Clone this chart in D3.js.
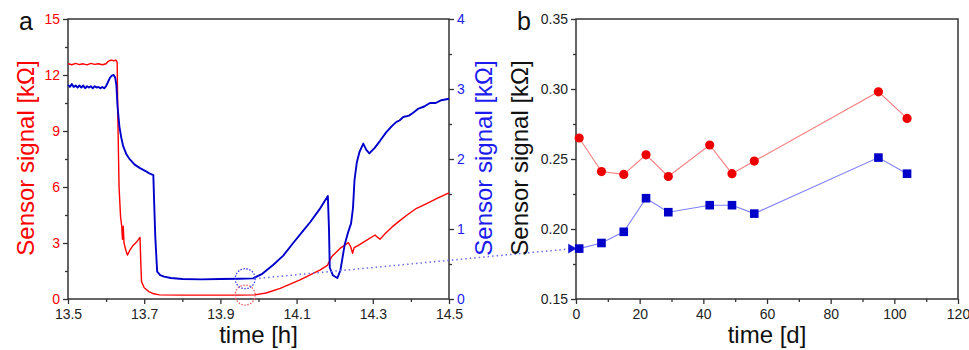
<!doctype html>
<html>
<head>
  <meta charset="utf-8">
  <title>Sensor signal</title>
  <style>
    body { margin: 0; background: #fff; }
    svg { display: block; font-family: Arial, "Liberation Sans", sans-serif; }
    .frame { fill: none; stroke: #333; stroke-width: 1.5; }
    .tick line { stroke: #333; stroke-width: 1.3; }
    .tick text { font-size: 14px; }
  </style>
</head>
<body>
  <div id="vis"></div>

  <script src="https://cdn.jsdelivr.net/npm/d3@7/dist/d3.min.js"></script>
  <script>

    // panel a: measurement run, time in hours
    var timeRed = [13.5, 13.51, 13.52, 13.53, 13.54, 13.55, 13.56, 13.57, 13.58, 13.59, 13.6,
      13.605, 13.61, 13.615, 13.62, 13.625, 13.629, 13.631, 13.634, 13.638, 13.641, 13.643,
      13.645, 13.647, 13.652, 13.656, 13.662, 13.67, 13.68, 13.689, 13.691, 13.693, 13.7,
      13.712, 13.725, 13.74, 13.8, 13.85, 13.9, 13.95, 13.99, 14.02, 14.057, 14.109, 14.161,
      14.181, 14.192, 14.214, 14.236, 14.242, 14.247, 14.251, 14.26, 14.28, 14.306, 14.313,
      14.319, 14.33, 14.35, 14.371, 14.39, 14.415, 14.44, 14.47, 14.5];
    var signalRed = [12.6, 12.55, 12.62, 12.56, 12.6, 12.54, 12.62, 12.57, 12.6, 12.55, 12.6,
      12.72, 12.78, 12.8, 12.76, 12.8, 12.7, 9.5, 6.0, 4.4, 3.9, 3.2,
      3.9, 3.0, 2.6, 2.35, 2.6, 2.85, 3.05, 3.3, 2.0, 0.93, 0.6,
      0.4, 0.28, 0.22, 0.21, 0.21, 0.21, 0.21, 0.22, 0.32, 0.57, 1.02, 1.55,
      1.8, 2.27, 2.71, 3.02, 2.8, 2.45, 2.75, 2.85, 3.1, 3.43, 3.3,
      3.2, 3.45, 3.85, 4.2, 4.5, 4.86, 5.1, 5.4, 5.69];

    var timeBlue = [13.5, 13.505, 13.51, 13.515, 13.52, 13.525, 13.53, 13.535, 13.54, 13.545,
      13.55, 13.555, 13.56, 13.565, 13.57, 13.575, 13.58, 13.585, 13.59, 13.595, 13.6,
      13.605, 13.61, 13.615, 13.62, 13.624, 13.627, 13.63, 13.635, 13.64, 13.645, 13.654,
      13.663, 13.675, 13.689, 13.706, 13.715, 13.724, 13.726, 13.729, 13.734, 13.742, 13.752,
      13.77, 13.8, 13.85, 13.9, 13.95, 13.986, 14.01, 14.039, 14.065, 14.091, 14.118, 14.136,
      14.16, 14.182, 14.185, 14.187, 14.195, 14.207, 14.215, 14.226, 14.235, 14.243, 14.248,
      14.252, 14.258, 14.265, 14.275, 14.283, 14.291, 14.305, 14.319, 14.335, 14.35, 14.362,
      14.37, 14.38, 14.395, 14.406, 14.42, 14.435, 14.45, 14.465, 14.48, 14.5];
    var signalBlue = [3.06, 3.03, 3.07, 3.03, 3.05, 3.02, 3.05, 3.02, 3.05, 3.01,
      3.04, 3.02, 3.04, 3.01, 3.04, 3.02, 3.03, 3.01, 3.03, 3.01, 3.04,
      3.1, 3.16, 3.19, 3.2, 3.16, 3.05, 2.75, 2.46, 2.3, 2.18, 2.06,
      1.99, 1.92, 1.87, 1.82, 1.79, 1.77, 1.4, 0.9, 0.39, 0.34, 0.32,
      0.3, 0.285, 0.28, 0.285, 0.29, 0.295, 0.36, 0.49, 0.62, 0.8, 0.98, 1.1,
      1.28, 1.47, 1.0, 0.45, 0.34, 0.3, 0.41, 0.77, 0.95, 1.08, 1.3,
      1.7, 1.95, 2.1, 2.22, 2.13, 2.08, 2.16, 2.26, 2.38, 2.47, 2.53,
      2.55, 2.6, 2.62, 2.66, 2.72, 2.75, 2.8, 2.8, 2.84, 2.86];

    // panel b: long term values, time in days
    var days = [1, 8, 15, 22, 29, 42, 49, 56, 95, 104];
    var agedRed = [0.265, 0.241, 0.239, 0.253, 0.2375, 0.260, 0.2395, 0.2485, 0.298, 0.279];
    var agedBlue = [0.186, 0.190, 0.198, 0.222, 0.212, 0.217, 0.217, 0.211, 0.251, 0.2395];

    // marked point in a, carried over to day 0 in b
    var markTime = 13.965, markRed = 0.21, markBlue = 0.29;
    var linkTime = 13.99, linkDay = 0, linkValue = 0.186;

    var hourTicks = [13.5, 13.7, 13.9, 14.1, 14.3, 14.5];
    var redTicks = [0, 3, 6, 9, 12, 15];
    var blueTicks = [0, 1, 2, 3, 4];
    var dayTicks = [0, 20, 40, 60, 80, 100, 120];
    var agedTicks = [0.15, 0.20, 0.25, 0.30, 0.35];

    var W = 969, H = 350;
    var RED = "#ff0000", BLUE = "#0000cc", AXISBLUE = "#1c1cf0";

    var svg = d3.select("#vis").append("svg")
      .attr("width", W).attr("height", H);

    var x = d3.scaleLinear().domain([13.5, 14.5]).range([68, 449]);
    var yRed = d3.scaleLinear().domain([0, 15]).range([299, 19]);
    var yBlue = d3.scaleLinear().domain([0, 4]).range([299, 19]);

    var xd = d3.scaleLinear().domain([0, 120]).range([576, 958]);
    var yd = d3.scaleLinear().domain([0.15, 0.35]).range([299, 19]);

    // minor ticks helper: short ticks without labels
    function minor(g, axisFn, scale, values) {
      g.call(axisFn(scale).tickValues(values).tickSize(3).tickFormat(""));
    }

    function styleAxis(g, color) {
      g.select(".domain").remove();
      g.selectAll(".tick text").attr("fill", color);
    }

    // ---- panel a axes ----
    var gx = svg.append("g").attr("transform", "translate(0,299)");
    gx.call(d3.axisBottom(x).tickValues(hourTicks).tickSize(5).tickPadding(5).tickFormat(d3.format(".1f")));
    styleAxis(gx, "#222");
    minor(svg.append("g").attr("transform", "translate(0,299)"), d3.axisBottom, x, [13.6, 13.8, 14.0, 14.2, 14.4]);

    var gyl = svg.append("g").attr("transform", "translate(68,0)");
    gyl.call(d3.axisLeft(yRed).tickValues(redTicks).tickSize(5).tickPadding(3).tickFormat(d3.format("d")));
    styleAxis(gyl, RED);
    minor(svg.append("g").attr("transform", "translate(68,0)"), d3.axisLeft, yRed, [1.5, 4.5, 7.5, 10.5, 13.5]);

    var gyr = svg.append("g").attr("transform", "translate(449,0)");
    gyr.call(d3.axisRight(yBlue).tickValues(blueTicks).tickSize(5).tickPadding(3).tickFormat(d3.format("d")));
    styleAxis(gyr, AXISBLUE);
    minor(svg.append("g").attr("transform", "translate(449,0)"), d3.axisRight, yBlue, [0.5, 1.5, 2.5, 3.5]);

    svg.selectAll(".domain").remove();
    svg.append("rect").attr("class", "frame")
      .attr("x", 68).attr("y", 19).attr("width", 449 - 68).attr("height", 280);

    // ---- panel a curves ----
    var redLine = d3.line()
      .x(function(d, i){ return x(timeRed[i]); })
      .y(function(d){ return yRed(d); });
    var blueLine = d3.line()
      .x(function(d, i){ return x(timeBlue[i]); })
      .y(function(d){ return yBlue(d); });

    svg.append("path").datum(signalRed)
      .attr("d", redLine)
      .attr("fill", "none").attr("stroke", RED).attr("stroke-width", 1.4)
      .attr("stroke-linejoin", "round");
    svg.append("path").datum(signalBlue)
      .attr("d", blueLine)
      .attr("fill", "none").attr("stroke", BLUE).attr("stroke-width", 1.9)
      .attr("stroke-linejoin", "round");

    // dotted circles around the marked point
    svg.append("circle")
      .attr("cx", x(markTime)).attr("cy", yRed(markRed)).attr("r", 10)
      .attr("fill", "none").attr("stroke", "#f06060").attr("stroke-width", 1.3)
      .attr("stroke-dasharray", "1.5,1.5");
    svg.append("circle")
      .attr("cx", x(markTime)).attr("cy", yBlue(markBlue)).attr("r", 10)
      .attr("fill", "none").attr("stroke", "#3a3aee").attr("stroke-width", 1.3)
      .attr("stroke-dasharray", "1.5,1.5");

    // ---- panel b axes ----
    var gxd = svg.append("g").attr("transform", "translate(0,299)");
    gxd.call(d3.axisBottom(xd).tickValues(dayTicks).tickSize(5).tickPadding(5));
    styleAxis(gxd, "#222");
    minor(svg.append("g").attr("transform", "translate(0,299)"), d3.axisBottom, xd, [10, 30, 50, 70, 90, 110]);

    var gyd = svg.append("g").attr("transform", "translate(576,0)");
    gyd.call(d3.axisLeft(yd).tickValues(agedTicks).tickSize(5).tickPadding(3).tickFormat(d3.format(".2f")));
    styleAxis(gyd, "#222");
    minor(svg.append("g").attr("transform", "translate(576,0)"), d3.axisLeft, yd, [0.175, 0.225, 0.275, 0.325]);

    svg.selectAll(".domain").remove();
    svg.append("rect").attr("class", "frame")
      .attr("x", 576).attr("y", 19).attr("width", 958 - 576).attr("height", 280);

    // ---- link between panels ----
    var linkEndX = xd(linkDay) - 3;
    svg.append("line")
      .attr("x1", x(linkTime)).attr("y1", yBlue(markBlue))
      .attr("x2", linkEndX).attr("y2", yd(linkValue))
      .attr("stroke", "#6a6af5").attr("stroke-width", 1.5)
      .attr("stroke-dasharray", "1.5,3");
    svg.append("path")
      .attr("d", d3.symbol().type(d3.symbolTriangle).size(40)())
      .attr("transform", "translate(" + (linkEndX - 2) + "," + yd(linkValue) + ") rotate(90)")
      .attr("fill", "#1010d0");

    // ---- panel b series ----
    var agedLine = d3.line()
      .x(function(d, i){ return xd(days[i]); })
      .y(function(d){ return yd(d); });

    svg.append("path").datum(agedRed).attr("d", agedLine)
      .attr("fill", "none").attr("stroke", "#f58080").attr("stroke-width", 1.1);
    svg.append("path").datum(agedBlue).attr("d", agedLine)
      .attr("fill", "none").attr("stroke", "#8080ff").attr("stroke-width", 1.1);

    svg.selectAll("circle.aged")
      .data(agedRed).enter().append("circle")
      .attr("class", "aged")
      .attr("cx", function(d, i){ return xd(days[i]); })
      .attr("cy", function(d){ return yd(d); })
      .attr("r", 4.6)
      .attr("fill", "#ee0000");

    svg.selectAll("rect.aged")
      .data(agedBlue).enter().append("rect")
      .attr("class", "aged")
      .attr("x", function(d, i){ return xd(days[i]) - 4.3; })
      .attr("y", function(d){ return yd(d) - 4.3; })
      .attr("width", 8.6).attr("height", 8.6)
      .attr("fill", "#0000c8");

    // ---- titles ----
    svg.append("text").attr("x", 19).attr("y", 30)
      .attr("font-size", 25).attr("fill", "#111").text("a");
    svg.append("text").attr("x", 517).attr("y", 30)
      .attr("font-size", 25).attr("fill", "#111").text("b");

    function yTitle(px, color) {
      svg.append("text")
        .attr("transform", "translate(" + px + ",158) rotate(-90)")
        .attr("text-anchor", "middle")
        .attr("font-size", 24).attr("fill", color)
        .text("Sensor signal [k\u03A9]");
    }
    yTitle(34, RED);
    yTitle(492, AXISBLUE);
    yTitle(528, "#111");

    svg.append("text").attr("x", x(14.0)).attr("y", 343)
      .attr("text-anchor", "middle").attr("font-size", 24).attr("fill", "#111")
      .text("time [h]");
    svg.append("text").attr("x", xd(60)).attr("y", 343)
      .attr("text-anchor", "middle").attr("font-size", 24).attr("fill", "#111")
      .text("time [d]");

  </script>
</body>
</html>
